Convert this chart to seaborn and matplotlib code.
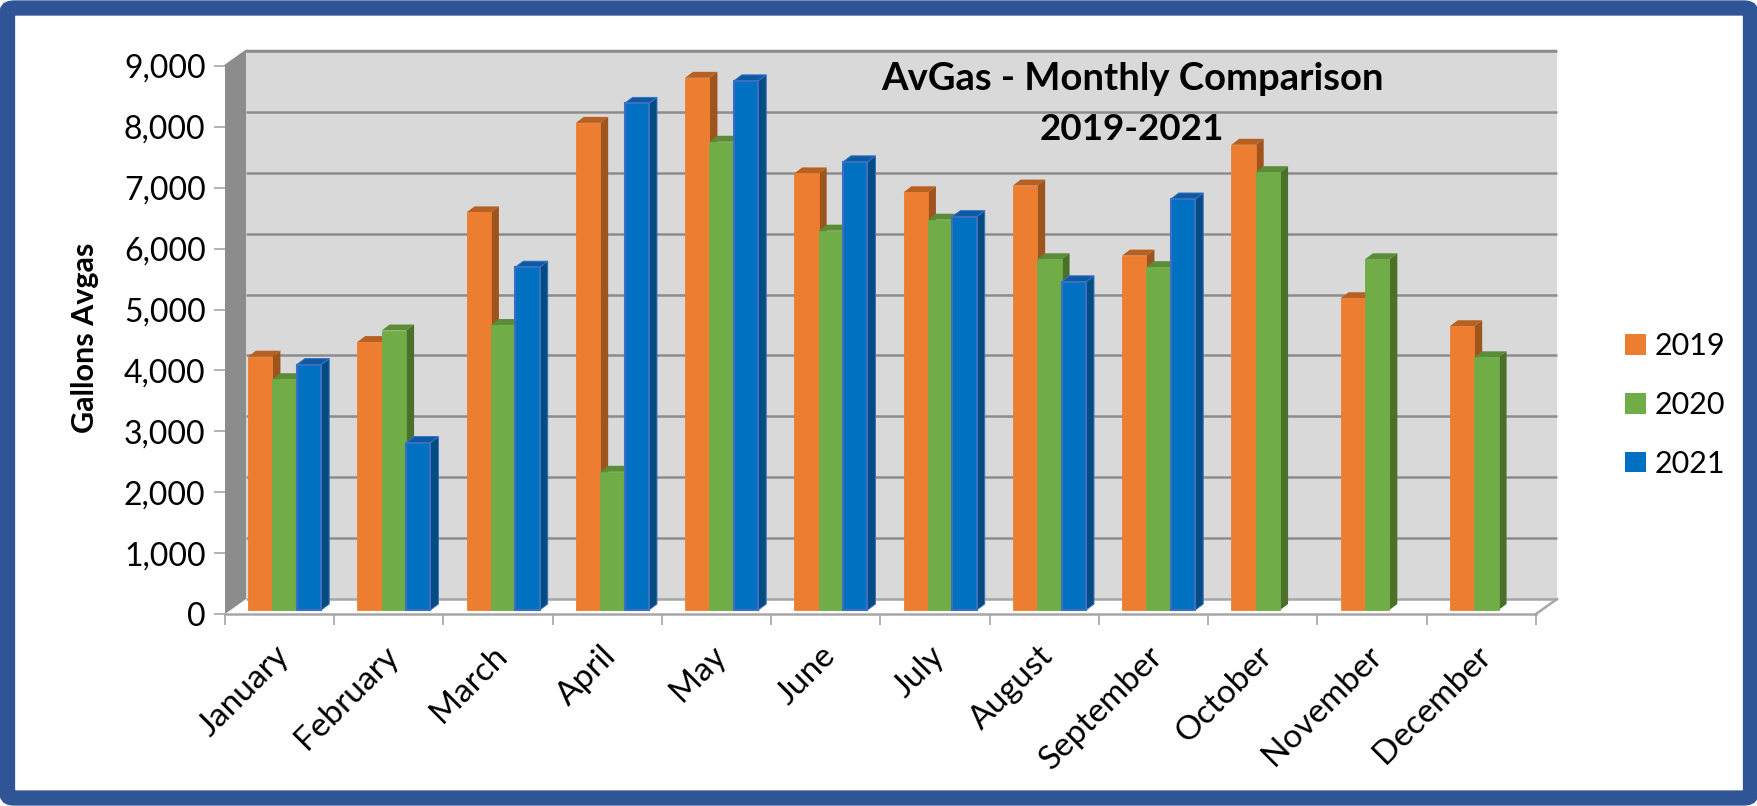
import numpy as np
import pandas as pd
import matplotlib
matplotlib.use("Agg")
import matplotlib.pyplot as plt
import seaborn as sns
from matplotlib.patches import FancyBboxPatch, Polygon, Rectangle
from matplotlib.transforms import Affine2D

months = ["January", "February", "March", "April", "May", "June", "July",
          "August", "September", "October", "November", "December"]
years = ["2019", "2020", "2021"]
gal_2019 = [4160, 4400, 6530, 8000, 8740, 7170, 6860, 6970, 5820, 7640, 5120, 4660]
gal_2020 = [3790, 4590, 4680, 2270, 7690, 6230, 6410, 5760, 5630, 7190, 5760, 4150]
gal_2021 = [4030, 2750, 5630, 8320, 8690, 7360, 6460, 5390, 6750, np.nan, np.nan, np.nan]
y_ticks = [0, 1000, 2000, 3000, 4000, 5000, 6000, 7000, 8000, 9000]

front_col = ["#ED7D31", "#70AD47", "#0070C0"]
top_col = ["#B8601F", "#5B8C38", "#0B5AA2"]
side_col = ["#9E541D", "#4A7029", "#034C82"]
edge_col = ["#ED7D31", "#70AD47", "#3A6FC4"]
edge_w = [0.6, 0.6, 1.5]

W, H = 1758, 806
plt.rcParams["font.family"] = ["Lato", "DejaVu Sans"]

df = pd.DataFrame({"month": months * 3,
                   "year": np.repeat(years, 12),
                   "gallons": gal_2019 + gal_2020 + gal_2021})

fig = plt.figure(figsize=(W / 100, H / 100), dpi=100, facecolor="white")

# blue frame round the whole picture
fig.patches.append(FancyBboxPatch((7.5 / W, 8 / H), 1 - 15 / W, 1 - 16 / H,
                                  boxstyle="round,pad=0,rounding_size=0.004",
                                  transform=fig.transFigure, fc="white", ec="#2F5597", lw=11, zorder=-1))

# axes = front plane of the fake 3d box
ax = fig.add_axes([225 / W, 1 - 614 / H, 1311 / W, 548 / H])
sns.barplot(data=df, x="month", y="gallons", hue="year", palette=front_col,
            width=0.67, saturation=1, gap=0, ax=ax, zorder=5)
ax.set_xlim(-0.5, 11.5)
ax.set_ylim(0, 9000)
ax.patch.set_visible(False)


def shifted(dx, dy):
    # pixel offset on top of data coords
    return ax.transData + Affine2D().translate(dx, dy)


back = shifted(21, 15)
bar_tr = shifted(5, 4)

# back wall + gridlines
ax.add_patch(Rectangle((-0.5, 0), 12, 9000, transform=back, fc="#D9D9D9", ec="none", zorder=1, clip_on=False))
for v in y_ticks[1:]:
    ax.plot([-0.5, 11.5], [v, v], transform=back, color="#8C8C8C", lw=1.8, zorder=1.5,
            clip_on=False, solid_capstyle="butt")
ax.plot([-0.5, 11.5], [0, 0], transform=back, color="#A6A6A6", lw=1.8, zorder=1.5,
        clip_on=False, solid_capstyle="butt")

# left wall and floor edges, drawn in pixels so they join the two planes
x0, y0 = ax.transData.transform((-0.5, 0))
x1, y1 = ax.transData.transform((-0.5, 9000))
x2, _ = ax.transData.transform((11.5, 0))
px = matplotlib.transforms.IdentityTransform()
ax.add_patch(Polygon([(x0, y0), (x1, y1), (x1 + 21, y1 + 15), (x0 + 21, y0 + 15)], transform=px,
                     fc="#8C8C8C", ec="none", zorder=2, clip_on=False))
ax.plot([x0, x2], [y0, y0], transform=px, color="#A6A6A6", lw=1.8, zorder=2, clip_on=False)
ax.plot([x2, x2 + 21], [y0, y0 + 15], transform=px, color="#A6A6A6", lw=1.8, zorder=2, clip_on=False)
ax.plot([x1, x1 + 21, x2 + 21], [y1, y1 + 15, y1 + 15], transform=px, color="#8C8C8C", lw=1.8, zorder=2,
        clip_on=False, solid_capstyle="butt")

# bars: shift to mid depth, then add the side and top faces
dx, dy = 8, 6
for i, cont in enumerate(ax.containers):
    for bar in cont:
        h = bar.get_height()
        if not np.isfinite(h) or h <= 0:
            bar.set_visible(False)
            continue
        bar.set_transform(bar_tr)
        bar.set_zorder(3 + i + 0.5)
        bar.set_edgecolor(edge_col[i])
        bar.set_linewidth(edge_w[i])
        xa, w = bar.get_x(), bar.get_width()
        (ax_l, ay_b), (ax_r, ay_t) = bar_tr.transform([(xa, 0), (xa + w, h)])
        ax.add_patch(Polygon([(ax_r, ay_b), (ax_r, ay_t), (ax_r + dx, ay_t + dy), (ax_r + dx, ay_b + dy)],
                             transform=px, fc=side_col[i], ec=edge_col[i] if i == 2 else "none",
                             lw=0.7, zorder=3 + i, clip_on=False))
        ax.add_patch(Polygon([(ax_l, ay_t), (ax_r, ay_t), (ax_r + dx, ay_t + dy), (ax_l + dx, ay_t + dy)],
                             transform=px, fc=top_col[i], ec=edge_col[i] if i == 2 else "none",
                             lw=0.7, zorder=3 + i + 0.2, clip_on=False))

# axes furniture
sns.despine(ax=ax, left=True, bottom=True, top=True, right=True)
ax.set_yticks(y_ticks)
ax.set_yticklabels([f"{v:,}" for v in y_ticks], fontsize=23, color="black")
ax.tick_params(axis="y", length=8, width=1.2, color="#A6A6A6", pad=6)
ax.set_xticks(np.arange(-0.5, 12, 1), minor=True)
ax.tick_params(axis="x", which="minor", length=8, width=1.2, color="#A6A6A6")
ax.set_xticks(range(12))
ax.set_xticklabels(months, rotation=45, ha="right", va="top", rotation_mode="anchor", fontsize=24)
ax.tick_params(axis="x", which="major", length=0, pad=19)
for lab in ax.get_xticklabels():
    lab.set_transform(lab.get_transform() + Affine2D().translate(-6, 0))
ax.set_xlabel("")
ax.set_ylabel("")
fig.text(85 / W, 1 - 338 / H, "Gallons Avgas", rotation=90, ha="center", va="center",
         fontsize=22, fontweight="bold")

fig.text(1132 / W, 1 - 79 / H, "AvGas - Monthly Comparison", ha="center", va="center",
         fontsize=27.5, fontweight="bold")
fig.text(1132 / W, 1 - 130 / H, "2019-2021", ha="center", va="center",
         fontsize=26.5, fontweight="bold")

handles, labels = ax.get_legend_handles_labels()
ax.legend(handles, labels, loc="center left", bbox_to_anchor=(1598 / W, 1 - 405 / H),
          bbox_transform=fig.transFigure, frameon=False, fontsize=22,
          handlelength=0.66, handleheight=0.66, handletextpad=0.3, labelspacing=1.0, title=None)

fig.savefig("out.png", dpi=100)
